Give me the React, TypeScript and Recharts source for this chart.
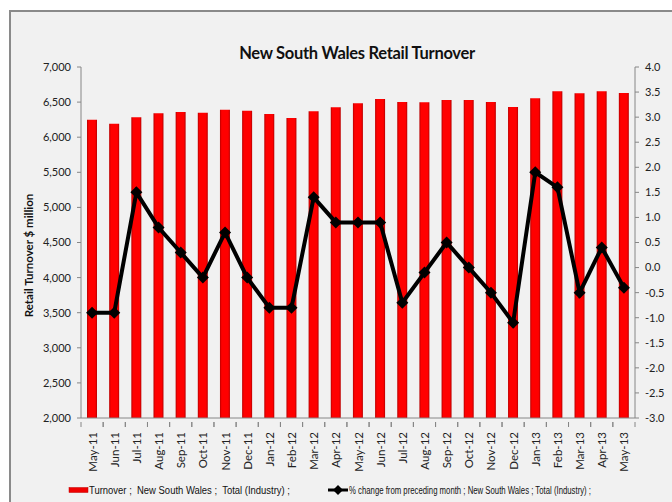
import React from 'react';
import { ComposedChart, Bar, Line, XAxis, YAxis } from 'recharts';

const months = ['May-11','Jun-11','Jul-11','Aug-11','Sep-11','Oct-11','Nov-11','Dec-11','Jan-12','Feb-12','Mar-12','Apr-12','May-12','Jun-12','Jul-12','Aug-12','Sep-12','Oct-12','Nov-12','Dec-12','Jan-13','Feb-13','Mar-13','Apr-13','May-13'];
const turnover = [6250,6192,6283,6340,6359,6350,6392,6378,6330,6274,6369,6426,6483,6544,6501,6497,6530,6530,6501,6430,6554,6654,6625,6654,6630];
const pctChange = [-0.9,-0.9,1.5,0.8,0.3,-0.2,0.7,-0.2,-0.8,-0.8,1.4,0.9,0.9,0.9,-0.7,-0.1,0.5,0.0,-0.5,-1.1,1.9,1.6,-0.5,0.4,-0.4];
const leftTicks = [2000,2500,3000,3500,4000,4500,5000,5500,6000,6500,7000];
const rightTicks = [-3,-2.5,-2,-1.5,-1,-0.5,0,0.5,1,1.5,2,2.5,3,3.5,4];

const title = 'New South Wales Retail Turnover';
const yLabel = 'Retail Turnover $ million';
const legendBar = 'Turnover ;  New South Wales ;  Total (Industry) ;';
const legendLine = '% change from preceding month ; New South Wales ; Total (Industry) ;';

const data = months.map((m, i) => ({ month: m, turnover: turnover[i], pct: pctChange[i] }));

const FONT = 'Lato, "Open Sans", sans-serif';
const NARROW = '"Liberation Sans Narrow", "Liberation Sans", sans-serif';
const AXIS = '#868686';
const HALF_BAND = 554 / 25 / 2;

const XTick = (props: any) => {
  const { x, y, payload } = props;
  return (
    <g>
      <line x1={x - HALF_BAND} x2={x - HALF_BAND} y1={y - 4} y2={y + 1} stroke={AXIS} />
      <line x1={x + HALF_BAND} x2={x + HALF_BAND} y1={y - 4} y2={y + 1} stroke={AXIS} />
      <text x={x} y={y + 6} transform={`rotate(-90, ${x}, ${y + 6})`} textAnchor="end" dominantBaseline="central" fontSize={11.5} fill="#222" fontFamily={FONT}>
        {payload.value}
      </text>
    </g>
  );
};

const Diamond = (props: any) => {
  const { cx, cy, index } = props;
  const r = 6;
  return <polygon key={`d${index}`} points={`${cx},${cy - r} ${cx + r},${cy} ${cx},${cy + r} ${cx - r},${cy}`} fill="#000" />;
};

const YLabel = (props: any) => {
  const vb = props.viewBox || {};
  const cx = (vb.x || 0) + 28;
  const cy = (vb.y || 0) + (vb.height || 0) / 2 + 13;
  return (
    <text x={cx} y={cy} transform={`rotate(-90, ${cx}, ${cy})`} textAnchor="middle" dominantBaseline="central" fontSize={11.5} fontWeight="bold" fill="#111" fontFamily={FONT}>
      {yLabel}
    </text>
  );
};

export default function App() {
  return (
    <div style={{ position: 'absolute', left: 0, top: 0, width: 672, height: 502, background: '#fff', overflow: 'hidden' }}>
      <div style={{ position: 'absolute', left: 9, top: 10, width: 663, height: 492, borderTop: '2px solid #8a8a8a', borderLeft: '2px solid #8a8a8a', background: '#f1f1f1', boxSizing: 'border-box' }} />
      <div style={{ position: 'absolute', left: 157, top: 43, width: 400, textAlign: 'center', fontFamily: FONT, fontWeight: 'bold', fontSize: 16.5, color: '#111', letterSpacing: -0.3 }}>{title}</div>
      <div style={{ position: 'absolute', left: 0, top: 0 }}>
        <ComposedChart width={672} height={502} data={data} margin={{ top: 67, right: 0, bottom: 0, left: 0 }} barSize={10}>
          <defs>
            <linearGradient id="barGrad" x1="0" y1="0" x2="1" y2="0">
              <stop offset="0%" stopColor="#b80000" />
              <stop offset="18%" stopColor="#ff0000" />
              <stop offset="82%" stopColor="#ff0000" />
              <stop offset="100%" stopColor="#b80000" />
            </linearGradient>
          </defs>
          <XAxis dataKey="month" interval={0} height={84} tick={<XTick />} tickLine={false} axisLine={{ stroke: AXIS }} />
          <YAxis yAxisId="left" domain={[2000, 7000]} ticks={leftTicks} width={81} tickFormatter={(v: number) => v.toLocaleString('en-US')} tick={{ fontSize: 11, fill: '#222', fontFamily: FONT }} tickSize={4} tickMargin={6} axisLine={{ stroke: AXIS }} tickLine={{ stroke: AXIS }} allowDataOverflow label={<YLabel />} />
          <YAxis yAxisId="right" orientation="right" domain={[-3, 4]} ticks={rightTicks} width={37} tickFormatter={(v: number) => v.toFixed(1)} tick={{ fontSize: 11, fill: '#222', fontFamily: FONT }} tickSize={4} tickMargin={6} axisLine={{ stroke: AXIS }} tickLine={{ stroke: AXIS }} allowDataOverflow />
          <Bar yAxisId="left" dataKey="turnover" fill="url(#barGrad)" isAnimationActive={false} />
          <Line yAxisId="right" type="linear" dataKey="pct" stroke="#000" strokeWidth={4} dot={<Diamond />} activeDot={false} isAnimationActive={false} />
        </ComposedChart>
      </div>
      <svg style={{ position: 'absolute', left: 0, top: 480 }} width={672} height={20}>
        <rect x={69} y={7.5} width={19} height={5} fill="#f00000" stroke="#c00000" strokeWidth={0.5} />
        <text x={89} y={10} dominantBaseline="central" fontFamily={NARROW} fontSize={10} fill="#111" textLength={201} lengthAdjust="spacingAndGlyphs" style={{ whiteSpace: 'pre' }}>{legendBar}</text>
        <line x1={328} y1={10} x2={348} y2={10} stroke="#000" strokeWidth={3} />
        <polygon points="338,5 343,10 338,15 333,10" fill="#000" />
        <text x={349} y={10} dominantBaseline="central" fontFamily={NARROW} fontSize={10} fill="#111" textLength={242} lengthAdjust="spacingAndGlyphs" style={{ whiteSpace: 'pre' }}>{legendLine}</text>
      </svg>
    </div>
  );
}
